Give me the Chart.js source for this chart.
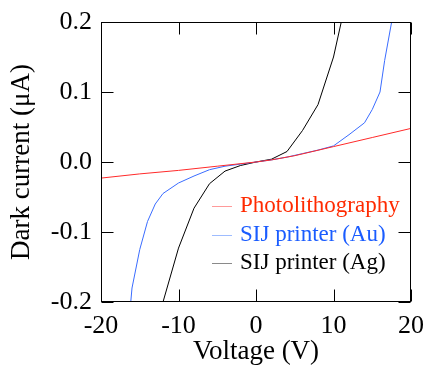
<!DOCTYPE html>
<html>
<head>
<meta charset="utf-8">
<script src="https://cdn.jsdelivr.net/npm/chart.js@4/dist/chart.umd.min.js"></script>
<style>
  html, body { margin: 0; padding: 0; background: #fff; }
  #wrap { width: 427px; height: 376px; }
</style>
</head>
<body>
<div id="wrap"><canvas id="ivChart" width="427" height="376"></canvas></div>
<script>
// data
const photoVoltage = [-20, -15, -10, -5, 0, 2, 5, 10, 15, 20];
const photoCurrent = [-0.023, -0.017, -0.012, -0.006, 0, 0.003, 0.009, 0.022, 0.035, 0.048];

const auVoltage = [-16.4, -16, -15, -14, -13, -12, -10, -8, -6, -4, -2, 0, 2, 4, 6, 8, 10, 12, 14, 15, 16, 16.6, 17.5, 18];
const auCurrent = [-0.23, -0.18, -0.125, -0.085, -0.06, -0.045, -0.03, -0.02, -0.011, -0.006, -0.003, 0, 0.003, 0.007, 0.012, 0.017, 0.023, 0.039, 0.056, 0.075, 0.10, 0.145, 0.2, 0.24];

const agVoltage = [-12.3, -12, -10, -8, -6, -4, -2, 0, 2, 4, 6, 8, 10, 11, 12];
const agCurrent = [-0.22, -0.2, -0.123, -0.066, -0.031, -0.013, -0.005, 0, 0.004, 0.015, 0.045, 0.082, 0.15, 0.2, 0.27];

const xTicks = [-20, -10, 0, 10, 20];
const yTicks = [-0.2, -0.1, 0.0, 0.1, 0.2];

const seriesNames = ['Photolithography', 'SIJ printer (Au)', 'SIJ printer (Ag)'];

const pts = (xs, ys) => xs.map((x, i) => ({ x: x, y: ys[i] }));
const serif = '"Liberation Serif", "DejaVu Serif", serif';

// frame + inward ticks on all four sides
const framePlugin = {
    id: 'frame',
    afterDraw(chart) {
        const { ctx, chartArea: a, scales } = chart;
        const L = Math.round(a.left) + 0.5, R = Math.round(a.right) - 0.5;
        const T = Math.round(a.top) + 0.5, B = Math.round(a.bottom) - 0.5;
        ctx.save();
        ctx.strokeStyle = '#000';
        ctx.lineWidth = 1;
        ctx.strokeRect(L, T, R - L, B - T);
        ctx.beginPath();
        xTicks.forEach(v => {
            const px = Math.round(scales.x.getPixelForValue(v)) + 0.5;
            ctx.moveTo(px, B); ctx.lineTo(px, B - 12);
            ctx.moveTo(px, T); ctx.lineTo(px, T + 12);
        });
        yTicks.forEach(v => {
            const py = Math.round(scales.y.getPixelForValue(v)) + 0.5;
            ctx.moveTo(L, py); ctx.lineTo(L + 12, py);
            ctx.moveTo(R, py); ctx.lineTo(R - 12, py);
        });
        ctx.stroke();
        ctx.restore();
    }
};

// legend drawn inside the plot
const legendPlugin = {
    id: 'innerLegend',
    afterDraw(chart) {
        const { ctx } = chart;
        const sample = ['#ff9a9a', '#9ebcff', '#8a8a8a'];
        const textCol = ['#ff2a00', '#1a5cff', '#000'];
        ctx.save();
        ctx.font = '23px ' + serif;
        ctx.textBaseline = 'middle';
        chart.data.datasets.forEach((ds, i) => {
            const y = 206 + i * 28.5;
            ctx.strokeStyle = sample[i];
            ctx.lineWidth = 1;
            ctx.beginPath();
            ctx.moveTo(212, Math.round(y) + 0.5);
            ctx.lineTo(232, Math.round(y) + 0.5);
            ctx.stroke();
            ctx.fillStyle = textCol[i];
            ctx.fillText(ds.label, 240, y);
        });
        ctx.restore();
    }
};

new Chart(document.getElementById('ivChart').getContext('2d'), {
    type: 'scatter',
    data: {
        datasets: [
            { label: seriesNames[0], data: pts(photoVoltage, photoCurrent), borderColor: '#ff2a2a' },
            { label: seriesNames[1], data: pts(auVoltage, auCurrent), borderColor: '#3a6cff' },
            { label: seriesNames[2], data: pts(agVoltage, agCurrent), borderColor: '#000000' },
        ].map(d => Object.assign(d, { showLine: true, borderWidth: 1, pointRadius: 0, tension: 0, fill: false })),
    },
    options: {
        responsive: false,
        animation: false,
        layout: { padding: { top: 22, right: 16, left: 0, bottom: 0 } },
        plugins: {
            legend: { display: false },
            tooltip: { enabled: false },
        },
        scales: {
            x: {
                type: 'linear',
                min: -20,
                max: 20,
                afterFit: s => { s.height = 74; s.paddingLeft = 0; s.paddingRight = 0; },
                afterBuildTicks: s => { s.ticks = xTicks.map(v => ({ value: v })); },
                ticks: { color: '#000', padding: 9, maxRotation: 0, font: { family: serif, size: 26 } },
                grid: { display: false, drawTicks: false },
                border: { display: false },
                title: { display: true, text: 'Voltage (V)', color: '#000', padding: { top: 0, bottom: 8 }, font: { family: serif, size: 27 } },
            },
            y: {
                type: 'linear',
                min: -0.2,
                max: 0.2,
                afterFit: s => { s.width = 101; s.paddingTop = 0; s.paddingBottom = 0; },
                afterBuildTicks: s => { s.ticks = yTicks.map(v => ({ value: v })); },
                ticks: { color: '#000', padding: 9, font: { family: serif, size: 26 }, callback: v => v.toFixed(1) },
                grid: { display: false, drawTicks: false },
                border: { display: false },
                title: { display: true, text: 'Dark current (μA)', color: '#000', padding: { top: 6, bottom: 0 }, font: { family: serif, size: 27 } },
            },
        },
    },
    plugins: [framePlugin, legendPlugin],
});
</script>
</body>
</html>
